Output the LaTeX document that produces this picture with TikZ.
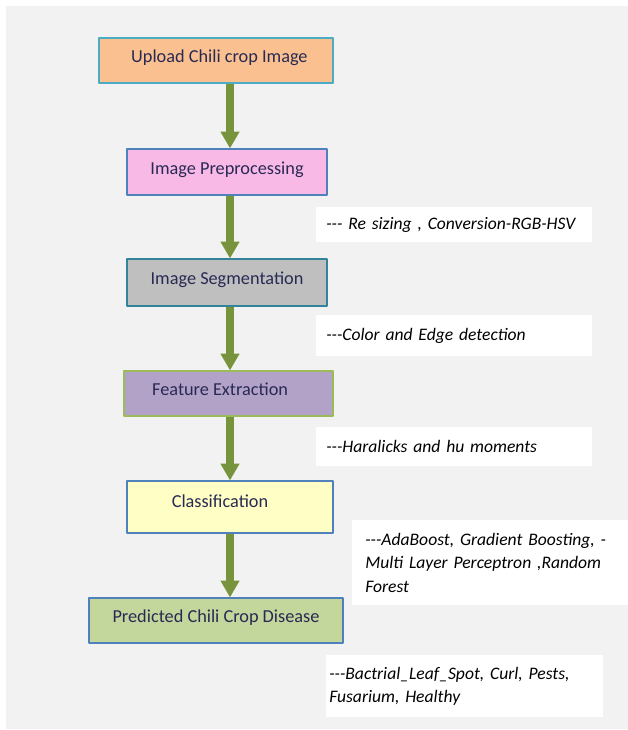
\documentclass[tikz,border=0pt]{standalone}
\usepackage{fontspec}
\setmainfont{Carlito}
\usetikzlibrary{arrows.meta,positioning}
\definecolor{bggray}{RGB}{242,242,242}
\definecolor{flowgreen}{RGB}{119,147,60}
\definecolor{boxtext}{RGB}{40,42,84}
\definecolor{upfill}{RGB}{250,192,143}
\definecolor{upline}{RGB}{75,172,198}
\definecolor{prefill}{RGB}{249,185,230}
\definecolor{blueline}{RGB}{79,129,189}
\definecolor{segfill}{RGB}{191,191,191}
\definecolor{segline}{RGB}{49,132,155}
\definecolor{featfill}{RGB}{179,162,199}
\definecolor{featline}{RGB}{155,187,89}
\definecolor{clsfill}{RGB}{255,255,197}
\definecolor{predfill}{RGB}{195,214,155}
\newcommand{\dashes}{-{}-{}-}
\tikzset{
  stepbox/.style={draw, line width=0.8pt, text=boxtext, align=center, inner sep=2pt, text depth=0.2cm, font=\fontsize{13}{15}\selectfont},
  note/.style={fill=white, anchor=north west, align=left, font=\fontsize{12.5}{16.6}\selectfont\itshape},
  flow/.style={draw=flowgreen, line width=0.2cm, -{Triangle[width=0.45cm,length=0.42cm,fill=flowgreen]}}
}
\begin{document}
\begin{tikzpicture}[x=0.025cm, y=-0.025cm, font=\fontsize{12.5}{15}\selectfont, line join=round]
  \useasboundingbox (0,0) rectangle (628,730);
  \fill[bggray] (6,6) rectangle (628,729);
  % main steps
  \node[stepbox, fill=upfill, draw=upline, minimum width=5.85cm, minimum height=1.125cm] (up) at (216,60.5) {\hspace*{0.17cm}Upload Chili crop Image};
  \node[stepbox, fill=prefill, draw=blueline, minimum width=5cm, minimum height=1.15cm] (pre) at (227,172) {Image Preprocessing};
  \node[stepbox, fill=segfill, draw=segline, minimum width=5cm, minimum height=1.175cm] (seg) at (227,282.5) {Image Segmentation};
  \node[stepbox, fill=featfill, draw=featline, minimum width=5.225cm, minimum height=1.125cm] (feat) at (228.5,393.5) {Feature Extraction\hspace*{0.42cm}};
  \node[stepbox, fill=clsfill, draw=blueline, minimum width=5.15cm, minimum height=1.3cm, text depth=0.3cm] (cls) at (230,507) {Classification\hspace*{0.5cm}};
  \node[stepbox, fill=predfill, draw=blueline, minimum width=6.35cm, minimum height=1.125cm] (pred) at (216,620.5) {Predicted Chili Crop Disease};
  % notes
  \node[note, minimum width=6.9cm, minimum height=0.875cm, inner xsep=0.25cm, text width=6.4cm] (npre) at (316,207) {\dashes{} Re sizing , Conversion-RGB-HSV};
  \node[note, minimum width=6.9cm, minimum height=1.025cm, inner xsep=0.25cm, text width=6.4cm] (nseg) at (316,315) {\dashes Color and Edge detection};
  \node[note, minimum width=6.9cm, minimum height=0.975cm, inner xsep=0.25cm, text width=6.4cm] (nfeat) at (316,427) {\dashes Haralicks and hu moments};
  \node[note, minimum width=6.9cm, minimum height=2.125cm, inner xsep=0.325cm, text width=6.25cm] (ncls) at (352,520) {\dashes AdaBoost, Gradient Boosting, -\\Multi Layer Perceptron ,Random\\Forest};
  \node[note, minimum width=6.925cm, minimum height=1.55cm, inner xsep=0.075cm, text width=6.775cm] (npred) at (326,655) {\dashes Bactrial\_Leaf\_Spot, Curl, Pests,\\Fusarium, Healthy};
  % arrows
  \coordinate (col) at (230,0);
  \draw[flow] (up.south -| col) -- (pre.north -| col);
  \draw[flow] (pre.south -| col) -- (seg.north -| col);
  \draw[flow] (seg.south -| col) -- (feat.north -| col);
  \draw[flow] (feat.south -| col) -- (cls.north -| col);
  \draw[flow] (cls.south -| col) -- (pred.north -| col);
\end{tikzpicture}
\end{document}
